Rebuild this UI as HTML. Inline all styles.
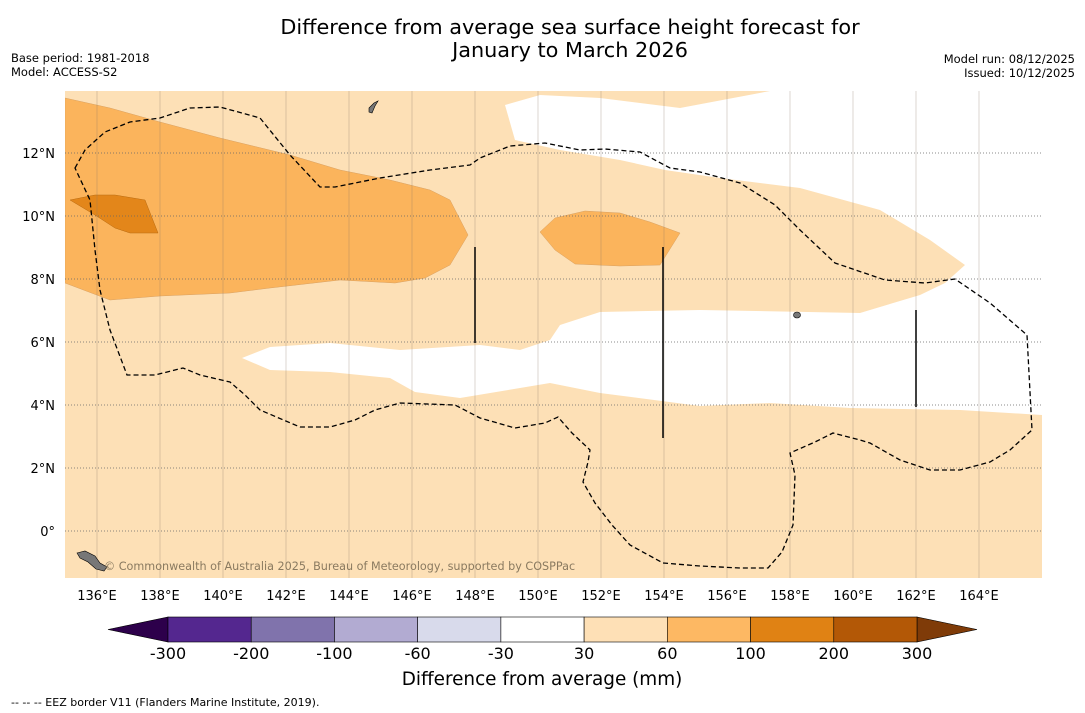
<!DOCTYPE html>
<html><head><meta charset="utf-8"><style>
html,body{margin:0;padding:0;background:#fff;}
svg{display:block;font-family:"DejaVu Sans","Liberation Sans",sans-serif;}
</style></head><body>
<svg id="c" width="1085" height="713" viewBox="0 0 1085 713">
<text x="570" y="34" font-size="20.8" text-anchor="middle">Difference from average sea surface height forecast for</text>
<text x="570" y="57" font-size="20.8" text-anchor="middle">January to March 2026</text>
<text x="11" y="62" font-size="11.5">Base period: 1981-2018</text>
<text x="11" y="76" font-size="11.5">Model: ACCESS-S2</text>
<text x="1075" y="63" font-size="11.5" text-anchor="end">Model run: 08/12/2025</text>
<text x="1075" y="77" font-size="11.5" text-anchor="end">Issued: 10/12/2025</text>
<defs><clipPath id="mc"><rect x="65" y="91" width="977" height="487"/></clipPath></defs>
<g clip-path="url(#mc)">
<rect x="65" y="91" width="977" height="487" fill="#fde0b6"/>
<path fill="#fff" d="M505,105 L540,95 600,98 680,108 770,91 1042,91 1042,415 960,410 850,408 770,403 700,406 600,393 550,383 460,398 415,392 390,378 330,372 270,370 242,358 270,347 330,343 400,350 480,345 520,350 550,340 560,325 600,312 700,310 860,313 920,295 945,283 965,265 930,240 880,210 800,188 720,178 665,170 620,160 560,150 515,140 Z"/>
<path fill="#fbb45c" stroke="#d9a060" stroke-width="0.5" d="M65,98 L110,108 160,122 220,138 290,155 340,170 390,180 430,190 450,200 468,235 450,265 425,278 395,283 340,280 270,288 230,293 160,296 110,300 65,283 Z"/>
<path fill="#fbb45c" stroke="#d9a060" stroke-width="0.5" d="M540,232 L555,218 585,211 620,213 650,222 680,233 660,265 620,266 575,264 555,250 Z"/>
<path fill="#e3861a" stroke="#b86a10" stroke-width="0.5" d="M70,200 L95,195 115,195 145,200 158,233 130,233 115,228 95,215 Z"/>
<g id="grid"></g>
<path fill="none" stroke="#000" stroke-width="1.3" stroke-dasharray="5,3" d="M75,168 L85,150 105,132 130,122 160,118 190,108 220,107 260,118 290,155 320,187 335,187 380,178 430,170 470,165 480,158 510,146 545,143 580,150 605,149 640,152 670,168 700,172 740,183 775,205 800,230 835,263 885,280 925,283 955,279 990,303 1027,335 1032,430 1010,450 990,462 960,470 930,470 900,460 870,443 860,440 833,433 815,442 790,453 795,475 793,525 782,552 768,568 740,568 700,566 663,563 630,545 612,525 595,503 583,482 588,462 590,450 572,433 558,417 545,423 515,428 480,418 455,405 400,403 375,410 355,420 330,427 300,427 260,410 245,395 230,382 200,375 183,368 155,375 127,375 110,330 100,290 95,250 90,200 Z"/>
<line x1="475" y1="247" x2="475" y2="343" stroke="#000" stroke-width="1.5"/>
<line x1="663" y1="247" x2="663" y2="438" stroke="#000" stroke-width="1.5"/>
<line x1="916" y1="310" x2="916" y2="407" stroke="#000" stroke-width="1.5"/>
<path fill="#777" stroke="#000" stroke-width="0.6" d="M77,553 L85,551 95,556 100,563 107,567 104,571 96,569 88,562 80,558 Z"/>
<path fill="#777" stroke="#000" stroke-width="0.6" d="M369,108 L374,103 378,101 375,106 372,113 369,112 Z"/>
<ellipse cx="797" cy="315" rx="3.5" ry="3" fill="#777" stroke="#000" stroke-width="0.6"/>
<text x="104" y="570" font-size="11.2" fill="#8a7a60">© Commonwealth of Australia 2025, Bureau of Meteorology, supported by COSPPac</text>
</g>
<g id="axes"></g>
<g id="cbar"></g>
<text x="542" y="685" font-size="18.4" text-anchor="middle">Difference from average (mm)</text>
<text x="11" y="706" font-size="11">-- -- -- EEZ border V11 (Flanders Marine Institute, 2019).</text>
</svg>
<script>
const lonTicks=[136,138,140,142,144,146,148,150,152,154,156,158,160,162,164];
const latTicks=[0,2,4,6,8,10,12];
const cbarLabels=["-300","-200","-100","-60","-30","30","60","100","200","300"];
const cbarColors=["#54278f","#8073ac","#b2abd2","#d8daeb","#ffffff","#fee0b6","#fdb863","#e08214","#b35806"];
const NS="http://www.w3.org/2000/svg";
function X(lon){return 65.5+(lon-135)*31.5;}
function Y(lat){return 531-lat*31.5;}
function mk(t,a,p){const e=document.createElementNS(NS,t);for(const k in a)e.setAttribute(k,a[k]);p.appendChild(e);return e;}
const grid=document.getElementById('grid'),axes=document.getElementById('axes'),cb=document.getElementById('cbar');
lonTicks.forEach(l=>{
 const g=mk('line',{x1:X(l),x2:X(l),y1:91,y2:578,stroke:'#8a7a66','stroke-width':0.6,'stroke-opacity':0.5},grid);
 
 
 const t=mk('text',{x:X(l),y:600,'font-size':13,'text-anchor':'middle'},axes);t.textContent=l+'°E';
 
 
});
latTicks.forEach(l=>{
 const g=mk('line',{x1:65,x2:1042,y1:Y(l),y2:Y(l),stroke:'#666','stroke-width':0.8,'stroke-dasharray':'1,2'},grid);
 
 
 const t=mk('text',{x:55,y:Y(l)+5,'font-size':13,'text-anchor':'end'},axes);t.textContent=l===0?'0°':l+'°N';
 
 
});
const x0=168,x1=917,w=(x1-x0)/cbarColors.length,y0=617,h=25;
const lt=mk('polygon',{points:`108,629.5 ${x0},${y0} ${x0},${y0+h}`,fill:'#2d004b',stroke:'#000','stroke-width':0.6},cb);


const rt=mk('polygon',{points:`977,629.5 ${x1},${y0} ${x1},${y0+h}`,fill:'#7f3b08',stroke:'#000','stroke-width':0.6},cb);


cbarColors.forEach((c,i)=>{
 const r=mk('rect',{x:x0+i*w,y:y0,width:w,height:h,fill:c,stroke:'#000','stroke-width':0.6},cb);
 
 
});
cbarLabels.forEach((s,i)=>{
 const t=mk('text',{x:x0+i*w,y:659,'font-size':16,'text-anchor':'middle'},cb);t.textContent=s;
 
 
});
</script>
</body></html>
